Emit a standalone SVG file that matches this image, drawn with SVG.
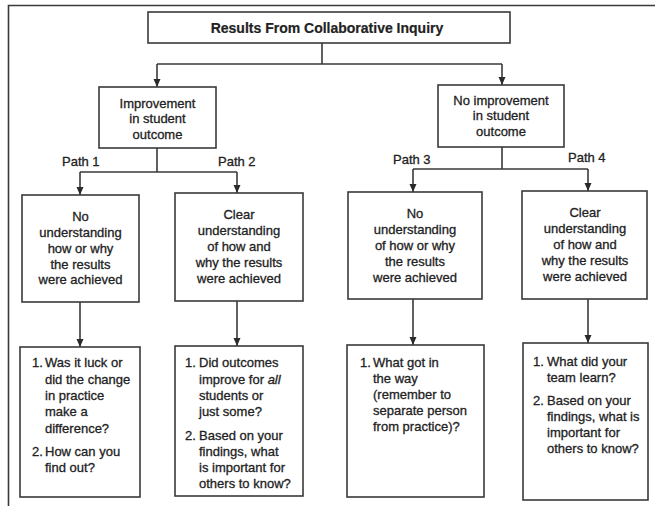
<svg xmlns="http://www.w3.org/2000/svg" width="655" height="506" viewBox="0 0 655 506">
<defs>
<style>
.box{fill:#fff;stroke:#3a3a3a;stroke-width:1.6}
.t{font-family:"Liberation Sans",Arial,sans-serif;font-size:13px;fill:#222;stroke:#222;stroke-width:0.3}
.c{text-anchor:middle}
.title{font-weight:bold;font-size:14px;stroke-width:0.2}
.ln{fill:none;stroke:#3a3a3a;stroke-width:1.6}
</style>
<marker id="ah" markerUnits="userSpaceOnUse" markerWidth="8" markerHeight="8" viewBox="0 0 8 8" refX="8" refY="4" orient="auto">
<path d="M0,0.5 L8,4 L0,7.5 z" fill="#2a2a2a"/>
</marker>
</defs>
<rect x="0" y="0" width="655" height="506" fill="#fff"/>
<g id="frame">
<path class="ln" d="M8.5,506 V5.5 H655"/>
</g>
<g id="connectors">
<path class="ln" d="M322,43 V64 M157,64 H502"/>
<path class="ln" d="M157,64 V87" marker-end="url(#ah)"/>
<path class="ln" d="M502,64 V85" marker-end="url(#ah)"/>
<path class="ln" d="M157,148 V172 M80,172 H237"/>
<path class="ln" d="M80,172 V195" marker-end="url(#ah)"/>
<path class="ln" d="M237,172 V193" marker-end="url(#ah)"/>
<path class="ln" d="M502,147 V169 M413,169 H588"/>
<path class="ln" d="M413,169 V192" marker-end="url(#ah)"/>
<path class="ln" d="M588,169 V191" marker-end="url(#ah)"/>
<path class="ln" d="M80,302 V347" marker-end="url(#ah)"/>
<path class="ln" d="M237,301 V346" marker-end="url(#ah)"/>
<path class="ln" d="M413,299 V345" marker-end="url(#ah)"/>
<path class="ln" d="M588,299 V343" marker-end="url(#ah)"/>
</g>
<g id="path-labels" class="t">
<text x="62" y="166">Path 1</text>
<text x="218" y="166">Path 2</text>
<text x="393" y="164">Path 3</text>
<text x="568" y="162">Path 4</text>
</g>
<g id="title">
<rect class="box" x="148" y="12" width="362" height="31"/>
<text class="t c title" x="327" y="32.5">Results From Collaborative Inquiry</text>
</g>
<g id="improvement">
<rect class="box" x="99" y="87" width="117" height="61"/>
<text class="t c" x="157.5" y="107.5">Improvement</text>
<text class="t c" x="157.5" y="123">in student</text>
<text class="t c" x="157.5" y="138.5">outcome</text>
</g>
<g id="no-improvement">
<rect class="box" x="438" y="85" width="126" height="62"/>
<text class="t c" x="501" y="104.5">No improvement</text>
<text class="t c" x="501" y="120">in student</text>
<text class="t c" x="501" y="135.5">outcome</text>
</g>
<g id="path1">
<rect class="box" x="22" y="195" width="117" height="107"/>
<text class="t c" x="80.5" y="221">No</text>
<text class="t c" x="80.5" y="237">understanding</text>
<text class="t c" x="80.5" y="253">how or why</text>
<text class="t c" x="80.5" y="268.5">the results</text>
<text class="t c" x="80.5" y="284">were achieved</text>
</g>
<g id="path2">
<rect class="box" x="175" y="193" width="128" height="108"/>
<text class="t c" x="239" y="219">Clear</text>
<text class="t c" x="239" y="235">understanding</text>
<text class="t c" x="239" y="251">of how and</text>
<text class="t c" x="239" y="267">why the results</text>
<text class="t c" x="239" y="283">were achieved</text>
</g>
<g id="path3">
<rect class="box" x="348" y="192" width="134" height="107"/>
<text class="t c" x="415" y="218">No</text>
<text class="t c" x="415" y="234">understanding</text>
<text class="t c" x="415" y="250">of how or why</text>
<text class="t c" x="415" y="266">the results</text>
<text class="t c" x="415" y="282">were achieved</text>
</g>
<g id="path4">
<rect class="box" x="522" y="191" width="125" height="108"/>
<text class="t c" x="585" y="217">Clear</text>
<text class="t c" x="585" y="233">understanding</text>
<text class="t c" x="585" y="249">of how and</text>
<text class="t c" x="585" y="265">why the results</text>
<text class="t c" x="585" y="281">were achieved</text>
</g>
<g id="questions1">
<rect class="box" x="20" y="347" width="120" height="150"/>
<text class="t" x="32" y="367">1.</text>
<text class="t" x="45" y="367">Was it luck or</text>
<text class="t" x="45" y="384">did the change</text>
<text class="t" x="45" y="400">in practice</text>
<text class="t" x="45" y="416">make a</text>
<text class="t" x="45" y="433">difference?</text>
<text class="t" x="32" y="456">2.</text>
<text class="t" x="45" y="456">How can you</text>
<text class="t" x="45" y="472">find out?</text>
</g>
<g id="questions2">
<rect class="box" x="175" y="346" width="128" height="150"/>
<text class="t" x="185" y="367">1.</text>
<text class="t" x="199" y="367">Did outcomes</text>
<text class="t" x="199" y="384">improve for <tspan font-style="italic">all</tspan></text>
<text class="t" x="199" y="400">students or</text>
<text class="t" x="199" y="416">just some?</text>
<text class="t" x="185" y="440">2.</text>
<text class="t" x="199" y="440">Based on your</text>
<text class="t" x="199" y="456">findings, what</text>
<text class="t" x="199" y="472">is important for</text>
<text class="t" x="199" y="488">others to know?</text>
</g>
<g id="questions3">
<rect class="box" x="347" y="345" width="137" height="152"/>
<text class="t" x="360" y="367">1.</text>
<text class="t" x="373" y="367">What got in</text>
<text class="t" x="373" y="383">the way</text>
<text class="t" x="373" y="399">(remember to</text>
<text class="t" x="373" y="415">separate person</text>
<text class="t" x="373" y="431">from practice)?</text>
</g>
<g id="questions4">
<rect class="box" x="523" y="343" width="125" height="157"/>
<text class="t" x="533" y="366">1.</text>
<text class="t" x="547" y="366">What did your</text>
<text class="t" x="547" y="382">team learn?</text>
<text class="t" x="533" y="405">2.</text>
<text class="t" x="547" y="405">Based on your</text>
<text class="t" x="547" y="421">findings, what is</text>
<text class="t" x="547" y="437">important for</text>
<text class="t" x="547" y="453">others to know?</text>
</g>
</svg>
